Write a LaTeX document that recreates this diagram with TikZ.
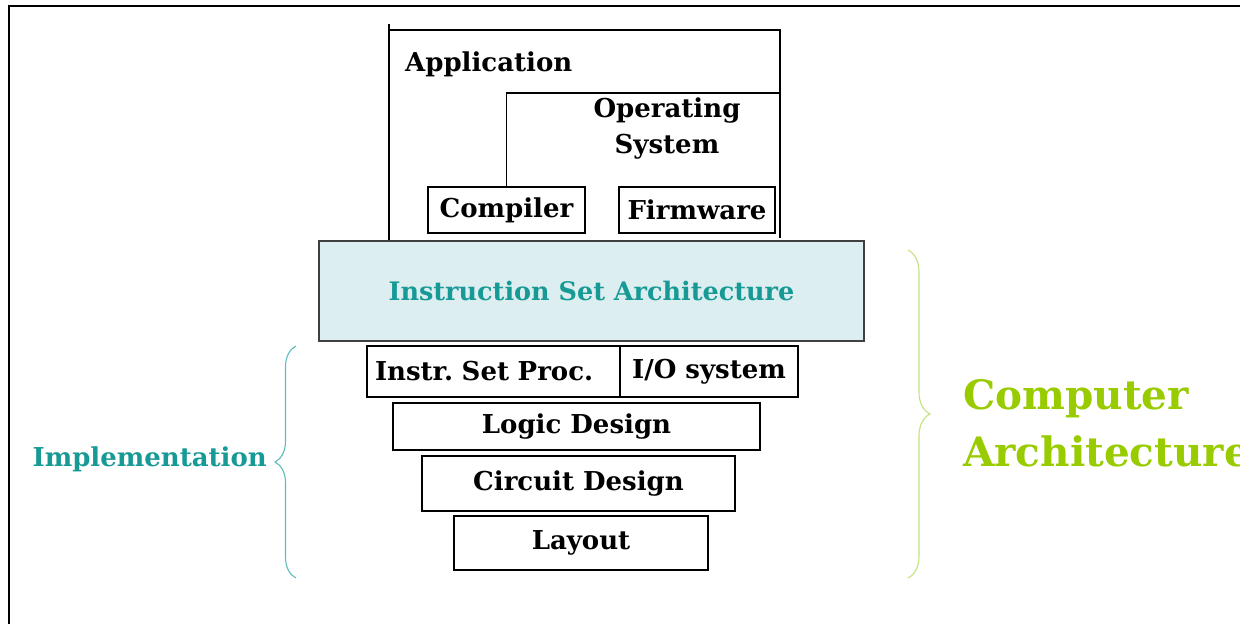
\documentclass[tikz,border=0pt]{standalone}
\usepackage{fontspec}
\setmainfont{DejaVu Serif}
\usepackage{tikz}
\usetikzlibrary{decorations.pathreplacing}

\definecolor{tealtext}{HTML}{179A96}
\definecolor{tealbrace}{HTML}{5CBDBA}
\definecolor{isafill}{HTML}{DCEEF0}
\definecolor{limetext}{HTML}{99CC00}
\definecolor{limebrace}{HTML}{C2E27A}

\begin{document}
\begin{tikzpicture}[x=1pt,y=-1pt,
  layer/.style = {draw, line width=1.2pt, inner sep=0pt, font=\fontsize{26}{30}\selectfont\bfseries},
  label/.style = {inner sep=0pt, font=\fontsize{26}{36}\selectfont\bfseries, align=center},
  curly/.style = {decorate, line width=1.1pt}]
\useasboundingbox (0,0) rectangle (1240,624);
\draw[line width=1.3pt] (1240,6) -- (9,6) -- (9,624);

\node[layer] (comp) at (506.5,210) [minimum width=157pt,minimum height=46pt] {Compiler};
\node[layer] (firm) at (697,210) [minimum width=156pt,minimum height=46pt] {Firmware};
\node[layer] (isa) at (591.5,291) [minimum width=545pt,minimum height=100pt,fill=isafill,draw=black!75,line width=2pt,text=tealtext,font=\fontsize{25.5}{30}\selectfont\bfseries] {Instruction Set Architecture};
\node[layer] (isp) at (493.5,371.5) [text width=237pt,inner xsep=8pt,align=left,minimum height=51pt] {Instr.\ Set Proc.};
\node[layer] (io) at (709,371.5) [minimum width=178pt,minimum height=51pt] {I/O system};
\node[layer] (logic) at (576.5,426.5) [minimum width=367pt,minimum height=47pt] {Logic Design};
\node[layer] (circ) at (578.5,483.5) [minimum width=313pt,minimum height=55pt] {Circuit Design};
\node[layer] (lay) at (581,543) [minimum width=254pt,minimum height=54pt] {Layout};

\node[label,anchor=west] (app) at (405,64) {Application};
\node[label] (os) at (667,129) {Operating\\System};

% software brackets
\draw[line width=1.2pt] (389,24) -- (389,24 |- isa.north);
\draw[line width=1.2pt] (389,30) -- (780,30) -- (780,238);
\draw[line width=1.2pt] (comp.north) |- (779,93);

% braces
\draw[curly,draw=tealbrace,decoration={brace,amplitude=21pt}] (296,578) -- (296,346);
\draw[curly,draw=limebrace,decoration={brace,amplitude=22pt}] (908,250) -- (908,578);
\node[label,anchor=east,text=tealtext,font=\fontsize{26}{30}\selectfont\bfseries] (impl) at (267,459) {Implementation};
\node[label,anchor=west,text=limetext,font=\fontsize{40.5}{57}\selectfont\bfseries,align=left] (carch) at (963,423) {Computer\\Architecture};
\end{tikzpicture}
\end{document}
